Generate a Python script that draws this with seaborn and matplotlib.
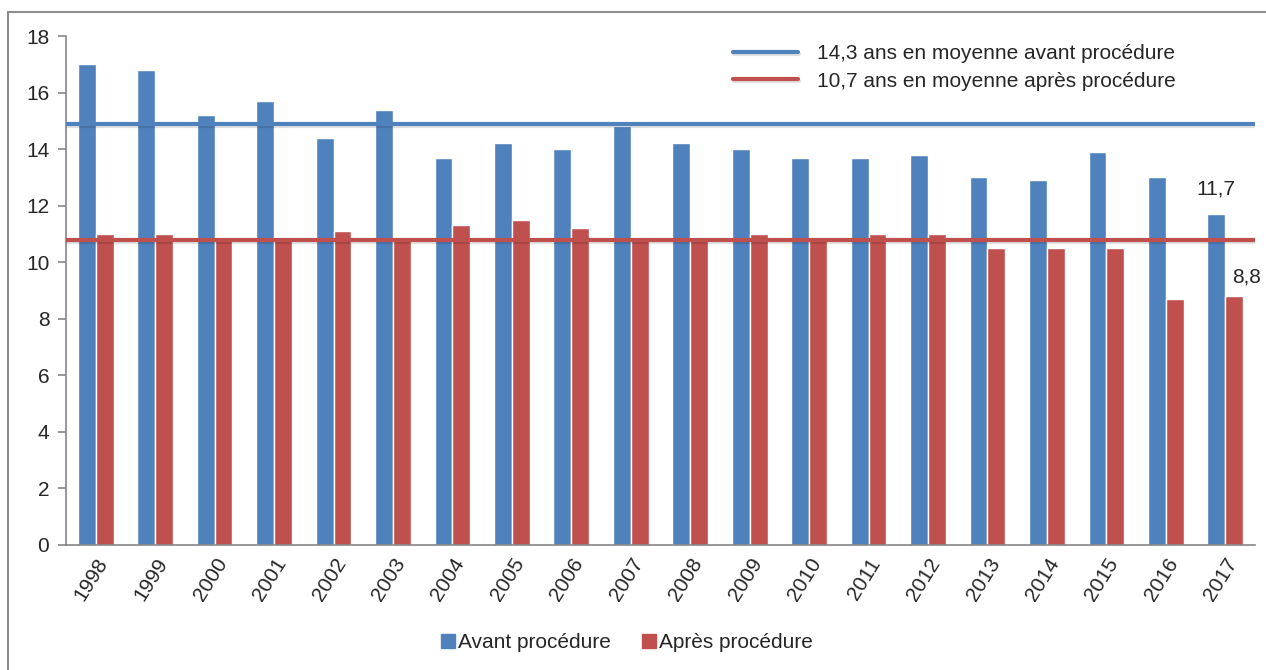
import numpy as np
import pandas as pd
import matplotlib
matplotlib.use("Agg")
import matplotlib.pyplot as plt
import matplotlib.patheffects as pe
from matplotlib.patches import Rectangle, Patch
from matplotlib.lines import Line2D
import seaborn as sns

# data
years = [str(y) for y in range(1998, 2018)]
avant = [17.0, 16.8, 15.2, 15.7, 14.4, 15.4, 13.7, 14.2, 14.0, 14.8,
         14.2, 14.0, 13.7, 13.7, 13.8, 13.0, 12.9, 13.9, 13.0, 11.7]
apres = [11.0, 11.0, 10.8, 10.9, 11.1, 10.8, 11.3, 11.5, 11.2, 10.9,
         10.8, 11.0, 10.8, 11.0, 11.0, 10.5, 10.5, 10.5, 8.7, 8.8]
series_names = ["Avant procédure", "Après procédure"]
mean_lines = [14.88, 10.78]
mean_labels = ["14,3 ans en moyenne avant procédure",
               "10,7 ans en moyenne après procédure"]
last_labels = ["11,7", "8,8"]

blue = "#4F81BD"
red = "#C0504D"
grey = "#868686"
fs = 15

df = pd.DataFrame({
    "annee": years * 2,
    "valeur": avant + apres,
    "serie": [series_names[0]] * len(years) + [series_names[1]] * len(years),
})

sns.set_style("white")
plt.rcParams["font.family"] = ["Liberation Sans", "DejaVu Sans"]

fig = plt.figure(figsize=(12.66, 6.70), dpi=100)
ax = fig.add_axes([66 / 1266, 1 - 545 / 670, (1255 - 66) / 1266, (545 - 36) / 670])

sns.barplot(data=df, x="annee", y="valeur", hue="serie", palette=[blue, red],
            width=0.6, saturation=1, legend=False, ax=ax)

shadow = [pe.SimpleLineShadow(offset=(0.5, -1.5), alpha=0.12, shadow_color="black"), pe.Normal()]
for val, col in zip(mean_lines, [blue, red]):
    ax.axhline(val, color=col, lw=3, path_effects=shadow, zorder=5)

ax.set_xlim(-0.5, len(years) - 0.5)
ax.set_ylim(0, 18)
ax.set_yticks(np.arange(0, 19, 2))
ax.set_xlabel("")
ax.set_ylabel("")

for s in ["top", "right"]:
    ax.spines[s].set_visible(False)
for s in ["left", "bottom"]:
    ax.spines[s].set_color(grey)
    ax.spines[s].set_linewidth(1.2)

ax.set_xticks(np.arange(-0.5, len(years), 1), minor=True)
ax.tick_params(axis="x", which="major", length=0, pad=7, labelsize=fs)
ax.tick_params(axis="x", which="minor", length=6, color=grey, width=1.2, direction="out")
ax.tick_params(axis="y", length=6, color=grey, width=1.2, direction="out", pad=6, labelsize=fs,
               left=True)
for lab in ax.get_xticklabels():
    lab.set_rotation(58)
    lab.set_ha("right")
    lab.set_rotation_mode("anchor")

# value labels for 2017
for cont, txt, off in zip(ax.containers, last_labels, [(0, 11), (9, 7)]):
    p = cont[-1]
    ax.annotate(txt, (p.get_x() + p.get_width() / 2, p.get_height()),
                xytext=off, textcoords="offset points", ha="center", va="bottom",
                fontsize=fs)

# legend of mean lines
line_handles = [Line2D([], [], color=c, lw=3, path_effects=shadow) for c in [blue, red]]
ax.legend(line_handles, mean_labels, loc="upper right", bbox_to_anchor=(0.940, 1.0),
          borderaxespad=0, frameon=False, fontsize=fs, handlelength=3.1, handletextpad=0.9,
          labelspacing=0.4)

# legend of bars
bar_handles = [Patch(color=blue), Patch(color=red)]
fig.legend(bar_handles, series_names, loc="center", bbox_to_anchor=(627 / 1266, 1 - 643 / 670),
           ncol=2, frameon=False, fontsize=fs, handlelength=0.65, handleheight=0.65,
           handletextpad=0.15, columnspacing=1.5)

# outer frame
fig.patches.append(Rectangle((8 / 1266, -0.1), 1.2, 1 - 12 / 670 + 0.1, transform=fig.transFigure,
                             fill=False, edgecolor="#8c8c8c", lw=1.5))

fig.savefig("out.png", dpi=100)
